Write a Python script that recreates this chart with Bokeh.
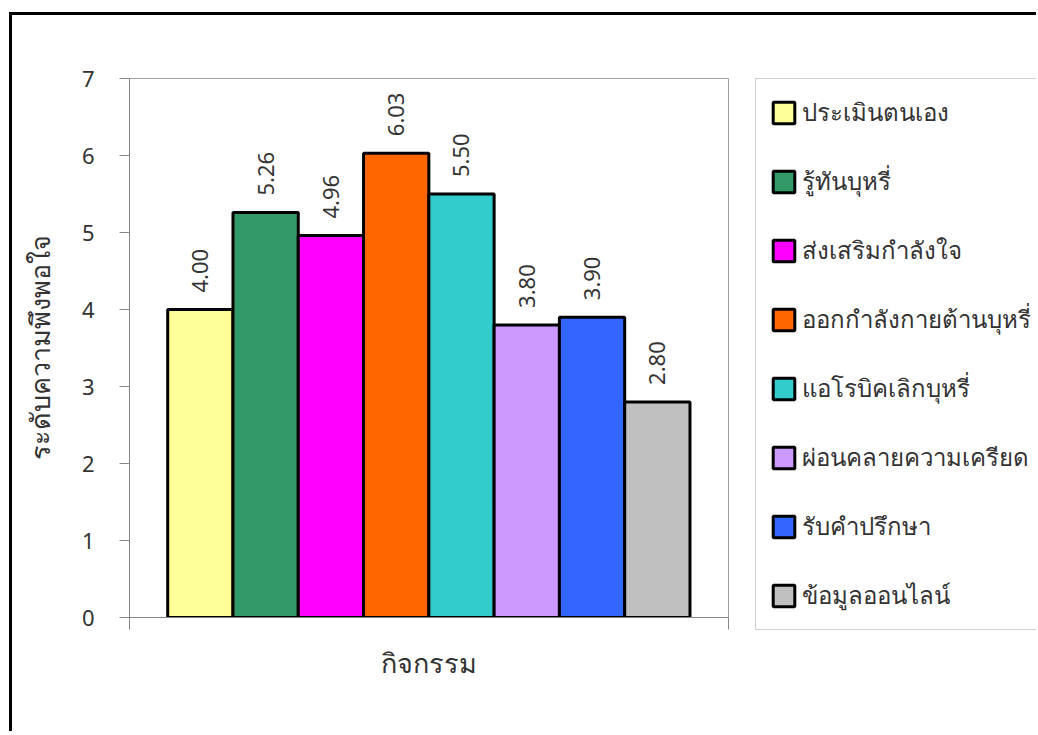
import math

from bokeh.core.properties import value
from bokeh.embed import file_html
from bokeh.layouts import column, row
from bokeh.models import (ColumnDataSource, FixedTicker, LabelSet, Legend,
                          LegendItem, Range1d)
from bokeh.plotting import figure
from bokeh.resources import INLINE

# Satisfaction score per activity
activities = [
    "ประเมินตนเอง",
    "รู้ทันบุหรี่",
    "ส่งเสริมกำลังใจ",
    "ออกกำลังกายต้านบุหรี่",
    "แอโรบิคเลิกบุหรี่",
    "ผ่อนคลายความเครียด",
    "รับคำปรึกษา",
    "ข้อมูลออนไลน์",
]
scores = [4.00, 5.26, 4.96, 6.03, 5.50, 3.80, 3.90, 2.80]
bar_colors = ["#FFFF99", "#339966", "#FF00FF", "#FF6600",
              "#33CCCC", "#CC99FF", "#3366FF", "#C0C0C0"]
y_ticks = [0, 1, 2, 3, 4, 5, 6, 7]
x_title = "กิจกรรม"
y_title = "ระดับความพึงพอใจ"

FONT = "Noto Sans"
TEXT_COLOR = "#333333"
AXIS_COLOR = "#868686"
HEIGHT = 716

positions = list(range(len(activities)))
source = ColumnDataSource(dict(
    x=positions,
    top=scores,
    color=bar_colors,
    name=activities,
    label=[f"{s:.2f}" for s in scores],
))

x_start = positions[0] - 1.085
x_end = positions[-1] + 1.09

# ---- main chart -----------------------------------------------------------
p = figure(
    width=735, height=HEIGHT,
    x_range=Range1d(x_start, x_end),
    y_range=Range1d(y_ticks[0], y_ticks[-1]),
    output_backend="svg", toolbar_location=None,
    min_border_left=117, min_border_right=19,
    min_border_top=63, min_border_bottom=HEIGHT - 602,
)
p.xgrid.visible = False
p.ygrid.visible = False
p.outline_line_color = "#a0a0a0"
p.outline_line_width = 1
p.background_fill_color = "white"
p.border_fill_color = "white"

bar_style = dict(x="x", top="top", width=1.0, bottom=0, source=source,
                 fill_color="color", line_color="black", line_width=3)
p.vbar(**bar_style)

labels = LabelSet(x="x", y="top", text="label", source=source,
                  angle=math.pi / 2, text_align="left", text_baseline="middle",
                  y_offset=17, text_font=value(FONT), text_font_size="22px",
                  text_color=TEXT_COLOR)
p.add_layout(labels)

# value axis
yax = p.yaxis[0]
yax.ticker = FixedTicker(ticks=y_ticks)
yax.major_tick_out = 10
yax.major_tick_in = 0
yax.minor_tick_line_color = None
yax.axis_line_color = AXIS_COLOR
yax.major_tick_line_color = AXIS_COLOR
yax.major_label_text_font = FONT
yax.major_label_text_font_size = "22px"
yax.major_label_text_color = TEXT_COLOR
yax.major_label_standoff = 25
yax.axis_label = y_title
yax.axis_label_text_font = FONT
yax.axis_label_text_font_size = "27px"
yax.axis_label_text_font_style = "normal"
yax.axis_label_text_color = TEXT_COLOR
yax.axis_label_standoff = 21

# category axis: ticks only at the two ends
xax = p.xaxis[0]
xax.ticker = FixedTicker(ticks=[x_start, x_end])
xax.major_tick_out = 12
xax.major_tick_in = 0
xax.minor_tick_line_color = None
xax.axis_line_color = AXIS_COLOR
xax.major_tick_line_color = AXIS_COLOR
xax.major_label_text_font_size = "0px"
xax.major_label_standoff = 0
xax.axis_label = x_title
xax.axis_label_text_font = FONT
xax.axis_label_text_font_size = "27px"
xax.axis_label_text_font_style = "normal"
xax.axis_label_text_color = TEXT_COLOR
xax.axis_label_standoff = 14

# ---- legend panel ---------------------------------------------------------
# the bars are repeated here only to feed the legend; the ranges keep them
# out of view so that just the key is shown
lp = figure(
    width=289, height=HEIGHT,
    x_range=Range1d(-3, -2), y_range=Range1d(-3, -2),
    x_axis_type=None, y_axis_type=None,
    output_backend="svg", toolbar_location=None,
    min_border_left=8, min_border_right=0,
    min_border_top=63, min_border_bottom=0,
)
lp.xgrid.visible = False
lp.ygrid.visible = False
lp.outline_line_color = None
lp.background_fill_color = "white"
lp.border_fill_color = "white"
key_bars = lp.vbar(**bar_style)

items = [LegendItem(label=value(name), renderers=[key_bars], index=i)
         for i, name in enumerate(activities)]
legend = Legend(
    items=items, location="top_left", margin=0,
    glyph_width=27, glyph_height=27, label_height=38, spacing=30,
    padding=14, label_standoff=5, label_width=250,
    label_text_font=FONT, label_text_font_size="24px",
    label_text_color=TEXT_COLOR,
    border_line_color="#a0a0a0", border_line_width=1.5,
    background_fill_color="white", background_fill_alpha=1.0,
)
lp.add_layout(legend)

# thick black page frame on the left and top
page = row(p, column(lp), styles={
    "margin-left": "9px", "margin-top": "12px",
    "border-left": "3px solid black", "border-top": "3px solid black",
    "border-right": "none", "border-bottom": "none",
})

open("out.html", "w").write(file_html(page, INLINE))
